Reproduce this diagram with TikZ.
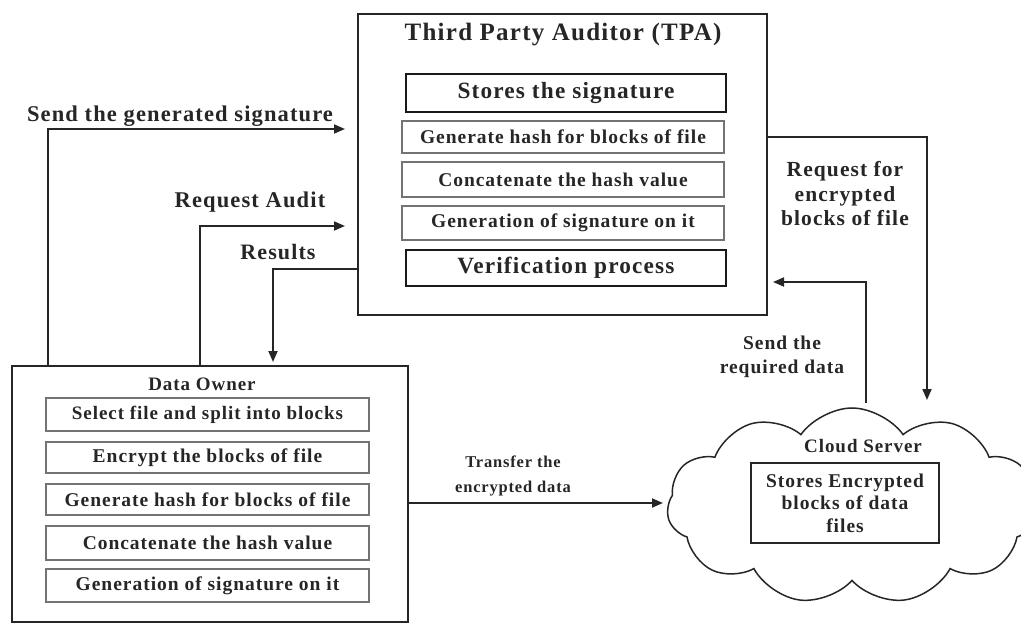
\documentclass[tikz,border=0pt]{standalone}
\usepackage{fontspec}
\setmainfont{Liberation Serif}[LetterSpace=5]
\usetikzlibrary{arrows.meta,shapes.symbols}
\tikzset{
  thickbox/.style={draw=black!90, line width=2.6pt},
  thinbox/.style={draw=black!55, line width=1.3pt},
  bigbox/.style={draw=black!85, line width=1.8pt},
  conn/.style={draw=black!85, line width=1.8pt},
  arr/.style={conn, -{Triangle[length=11pt,width=9pt]}},
  lbl/.style={font=\bfseries\fontsize{#1}{#1}\selectfont, text=black!85, align=center, inner sep=0pt},
}
\begin{document}
\begin{tikzpicture}[x=1pt,y=-1pt]
\useasboundingbox (0,0) rectangle (1021,623);
% TPA
\node[bigbox, minimum width=409pt, minimum height=301pt] (tpa) at (562.5,164.5) {};
\node[lbl=25] (tpat) at (563,35) {Third Party Auditor (TPA)};
\node[thickbox, minimum width=320pt, minimum height=38pt, lbl=23.3] (t1) at (566,93) {Stores the signature};
\node[thinbox, minimum width=322pt, minimum height=32pt, lbl=19.5] (t2) at (563,137) {Generate hash for blocks of file};
\node[thinbox, minimum width=322pt, minimum height=35pt, lbl=19.5] (t3) at (563,179.5) {Concatenate the hash value};
\node[thinbox, minimum width=322pt, minimum height=34pt, lbl=19.5] (t4) at (563,223) {Generation of signature on it};
\node[thickbox, minimum width=320pt, minimum height=36pt, lbl=23.3] (t5) at (566,268) {Verification process};
% Data owner
\node[bigbox, minimum width=396pt, minimum height=256pt] (do) at (210,494) {};
\node[lbl=19] (dot) at (202,384) {Data Owner};
\node[thinbox, minimum width=323pt, minimum height=33pt, lbl=19] (d1) at (207.5,414.5) {Select file and split into blocks};
\node[thinbox, minimum width=323pt, minimum height=31pt, lbl=19.5] (d2) at (207.5,457.5) {Encrypt the blocks of file};
\node[thinbox, minimum width=323pt, minimum height=31pt, lbl=19.5] (d3) at (207.5,499.5) {Generate hash for blocks of file};
\node[thinbox, minimum width=323pt, minimum height=34pt, lbl=19.5] (d4) at (207.5,543) {Concatenate the hash value};
\node[thinbox, minimum width=323pt, minimum height=33pt, lbl=19.5] (d5) at (207.5,585.5) {Generation of signature on it};
% Cloud
\node[cloud, cloud puffs=11, cloud puff arc=110, cloud ignores aspect, draw=black!85, line width=1.5pt, minimum width=370pt, minimum height=196pt] (cs) at (852,506) {};
\node[lbl=19] (cst) at (863,446) {Cloud Server};
\node[bigbox, minimum width=188pt, minimum height=80pt, lbl=19.5] (cb) at (845,503) {Stores Encrypted\\[3pt]blocks of data\\[3pt]files};
% coordinates
\coordinate (sigL) at (48,129);
\coordinate (sigR) at (345,129);
\coordinate (raL) at (200,226);
\coordinate (raR) at (345,226);
\coordinate (resL) at (273,269);
\coordinate (resE) at (273,362);
\coordinate (rqR) at (927,137);
\coordinate (rqE) at (927,400);
\coordinate (sdB) at (866,403);
\coordinate (sdT) at (866,282);
\coordinate (sdE) at (773,282);
\coordinate (trE) at (663,503);
% connectors
\draw[arr] (do.north -| sigL) -- (sigL) -- (sigR);
\draw[arr] (do.north -| raL) -- (raL) -- (raR);
\draw[arr] (tpa.west |- resL) -- (resL) -- (resE);
\draw[arr] (tpa.east |- rqR) -- (rqR) -- (rqE);
\draw[arr] (sdB) -- (sdT) -- (sdE);
\draw[arr] (do.east |- trE) -- (trE);
% labels
\node[lbl=22.5] (l1) at (180,116) {Send the generated signature};
\node[lbl=22.5] (l2) at (250,202) {Request Audit};
\node[lbl=22] (l3) at (278,252) {Results};
\node[lbl=21.5] (l4) at (845,194) {Request for\\[3pt]encrypted\\[3pt]blocks of file};
\node[lbl=19.5] (l5) at (782,357) {Send the\\[5pt]required data};
\node[lbl=16.5] (l6) at (513,476) {Transfer the\\[8pt]encrypted data};
\end{tikzpicture}
\end{document}
